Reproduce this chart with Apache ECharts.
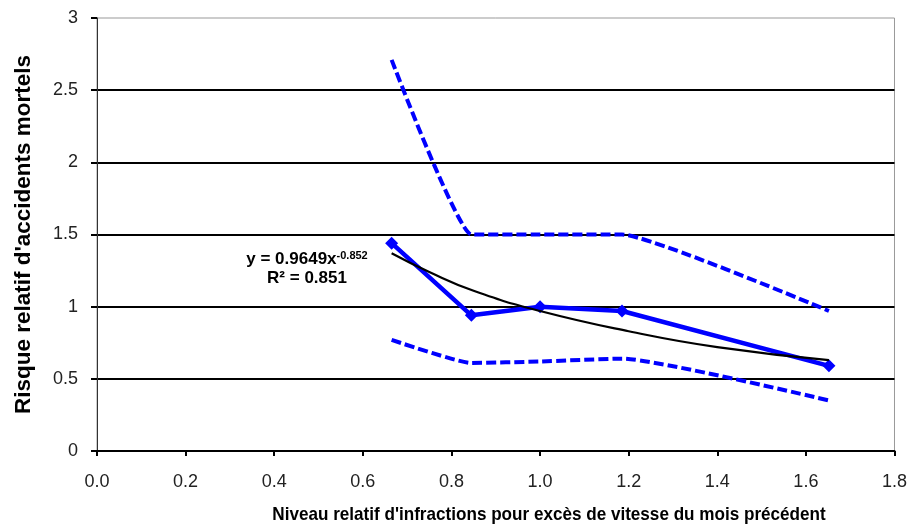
<!DOCTYPE html>
<html>
<head>
<meta charset="utf-8">
<script src="https://cdn.jsdelivr.net/npm/echarts@6/dist/echarts.min.js"></script>
<style>
html,body{margin:0;padding:0;background:#fff;}
#chart{width:910px;height:526px;}
</style>
</head>
<body>
<div id="chart"></div>
<script>
// Data
const xLevels = [0.665, 0.845, 1.0, 1.185, 1.652];
const riskMain = [1.44, 0.94, 1.0, 0.97, 0.59];
const riskUpper = [2.71, 1.5, 1.5, 1.5, 0.97];
const riskLower = [0.77, 0.61, 0.62, 0.64, 0.35];
const trendX = [0.665, 0.75, 0.85, 1.0, 1.2, 1.4, 1.652];
const trendY = [1.37, 1.24, 1.11, 0.97, 0.83, 0.72, 0.63];
const yTicks = [0, 0.5, 1, 1.5, 2, 2.5, 3];
const xTicks = [0.0, 0.2, 0.4, 0.6, 0.8, 1.0, 1.2, 1.4, 1.6, 1.8];
const eqLine1 = 'y = 0.9649x';
const eqExp = '-0.852';
const eqLine2 = 'R² = 0.851';
const xTitle = "Niveau relatif d'infractions pour excès de vitesse du mois précédent";
const yTitle = "Risque relatif d'accidents mortels";

const pair = (xs, ys) => xs.map((x, i) => [x, ys[i]]);
const BLUE = '#0000ff';
const FONT = "'Liberation Sans', Arial, sans-serif";

const chart = echarts.init(document.getElementById('chart'), null, {renderer: 'canvas'});
chart.setOption({
  animation: false,
  backgroundColor: '#ffffff',
  grid: {left: 97, right: 15, top: 18, bottom: 75, show: true, borderColor: '#999999', borderWidth: 1},
  xAxis: {
    type: 'value', min: xTicks[0], max: xTicks[xTicks.length - 1], interval: 0.2,
    axisLine: {show: true, lineStyle: {color: '#000', width: 2}},
    axisTick: {show: true, length: 5, lineStyle: {color: '#000', width: 2}},
    axisLabel: {fontFamily: FONT, fontSize: 18, color: '#222', margin: 22, formatter: v => v.toFixed(1)},
    splitLine: {show: false}
  },
  yAxis: {
    type: 'value', min: yTicks[0], max: yTicks[yTicks.length - 1], interval: 0.5,
    name: yTitle, nameLocation: 'middle', nameGap: 62,
    nameTextStyle: {fontFamily: FONT, fontWeight: 'bold', fontSize: 22.5, color: '#000'},
    axisLine: {show: true, lineStyle: {color: '#333', width: 1}},
    axisTick: {show: true, length: 6, lineStyle: {color: '#000', width: 2}},
    axisLabel: {fontFamily: FONT, fontSize: 18, color: '#222', margin: 19, formatter: v => String(v)},
    splitLine: {show: true, showMaxLine: false, lineStyle: {color: '#000', width: 2}}
  },
  series: [
    {type: 'line', data: pair(xLevels, riskUpper), smooth: 0.12, showSymbol: false, symbol: 'none',
     lineStyle: {color: BLUE, width: 4, type: [10, 4]}, z: 2},
    {type: 'line', data: pair(xLevels, riskLower), smooth: 0.15, showSymbol: false, symbol: 'none',
     lineStyle: {color: BLUE, width: 4, type: [10, 4]}, z: 2},
    {type: 'line', data: pair(xLevels, riskMain), symbol: 'diamond', symbolSize: 13,
     itemStyle: {color: BLUE}, lineStyle: {color: BLUE, width: 4.5}, z: 3},
    {type: 'line', data: pair(trendX, trendY), smooth: true, showSymbol: false, symbol: 'none',
     lineStyle: {color: '#000', width: 2.2}, z: 4}
  ],
  graphic: [{
    type: 'text', x: 307, y: 250, z: 10,
    style: {
      text: '{a|' + eqLine1 + '}{s|' + eqExp + '}\n{a|' + eqLine2 + '}',
      align: 'center',
      rich: {
        a: {fontFamily: FONT, fontWeight: 'bold', fontSize: 17, lineHeight: 19, fill: '#000'},
        s: {fontFamily: FONT, fontWeight: 'bold', fontSize: 11, lineHeight: 19, verticalAlign: 'top', fill: '#000'}
      }
    }
  }, {
    type: 'text', x: 549, y: 515, scaleX: 0.9, z: 10,
    style: {
      text: xTitle, align: 'center', verticalAlign: 'middle',
      fontFamily: FONT, fontWeight: 'bold', fontSize: 19, fill: '#000'
    }
  }]
});
</script>
</body>
</html>
